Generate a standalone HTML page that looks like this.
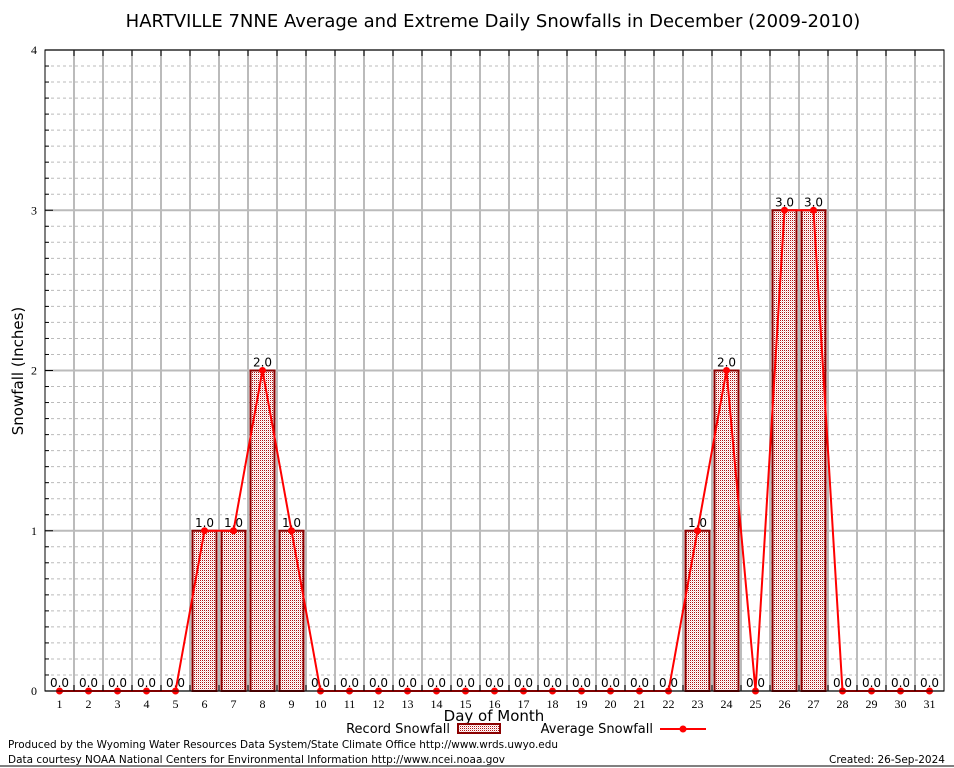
<!DOCTYPE html>
<html><head><meta charset="utf-8"><style>
body{margin:0;background:#fff}
svg{display:block;font-family:"DejaVu Sans","Liberation Sans",sans-serif}
</style></head><body>
<svg width="954" height="768" id="chart">
<defs>
<pattern id="chk" width="2" height="2" patternUnits="userSpaceOnUse">
<rect width="2" height="2" fill="#fff"/><rect width="1" height="1" fill="#b01010"/><rect x="1" y="1" width="1" height="1" fill="#f0d0d0"/>
</pattern>
</defs>
<text x="493" y="27" text-anchor="middle" font-size="18">HARTVILLE 7NNE Average and Extreme Daily Snowfalls in December (2009-2010)</text>
<text transform="translate(23,371) rotate(-90)" text-anchor="middle" font-size="15">Snowfall (Inches)</text>
<text x="494" y="721" text-anchor="middle" font-size="15">Day of Month</text>
<g id="grid"></g>
<g id="bars"></g>
<g id="line"></g>
<g id="axes"></g>
<g>
<text x="450" y="733" text-anchor="end" font-size="13">Record Snowfall</text>
<rect x="458" y="724" width="42" height="9" fill="url(#chk)" stroke="#8b0000" stroke-width="2"/>
<text x="653" y="733" text-anchor="end" font-size="13">Average Snowfall</text>
<line x1="660" y1="729" x2="706" y2="729" stroke="#f00" stroke-width="2"/>
<circle cx="683" cy="729" r="3.5" fill="#f00"/>
</g>
<text x="8" y="748" font-size="11" textLength="550" lengthAdjust="spacingAndGlyphs">Produced by the Wyoming Water Resources Data System/State Climate Office http://www.wrds.uwyo.edu</text>
<text x="8" y="763" font-size="11" textLength="497" lengthAdjust="spacingAndGlyphs">Data courtesy NOAA National Centers for Environmental Information http://www.ncei.noaa.gov</text>
<text x="945" y="763" text-anchor="end" font-size="11" textLength="116" lengthAdjust="spacingAndGlyphs">Created: 26-Sep-2024</text>
<line x1="0" y1="766" x2="954" y2="766" stroke="#000" stroke-width="1"/>
</svg>
<script>
const days = [1,2,3,4,5,6,7,8,9,10,11,12,13,14,15,16,17,18,19,20,21,22,23,24,25,26,27,28,29,30,31];
const recordSnow = [0,0,0,0,0,1,1,2,1,0,0,0,0,0,0,0,0,0,0,0,0,0,1,2,0,3,3,0,0,0,0];
const avgSnow = [0,0,0,0,0,1,1,2,1,0,0,0,0,0,0,0,0,0,0,0,0,0,1,2,0,3,3,0,0,0,0];
const yTicks = [0,1,2,3,4];
const NS='http://www.w3.org/2000/svg';
const L=45,R=944,T=50,B=691,yMax=4;
const x=d=>L+(d-0.5)*(R-L)/31;
const y=v=>B-v*(B-T)/yMax;
function mk(tag,attrs,parent,txt){const e=document.createElementNS(NS,tag);for(const k in attrs)e.setAttribute(k,attrs[k]);if(txt!==undefined)e.textContent=txt;parent.appendChild(e);return e;}
const g=document.getElementById('grid'),gb=document.getElementById('bars'),gl=document.getElementById('line'),ga=document.getElementById('axes');
for(let i=1;i<yMax*10;i++){if(i%10===0)continue;const e=mk('line',{x1:L,x2:R,y1:y(i/10),y2:y(i/10),stroke:'#bbb','stroke-dasharray':'3,3','stroke-width':1},g);

}
yTicks.forEach(t=>{const e=mk('line',{x1:L,x2:R,y1:y(t),y2:y(t),stroke:'#bbb','stroke-width':2},g);


const tl=mk('text',{x:L-8,y:y(t)+4,'text-anchor':'end','font-size':12,'font-family':'Liberation Serif, serif'},ga,String(t));


const tk=mk('line',{x1:L,x2:L+8,y1:y(t),y2:y(t),stroke:'#000','stroke-width':1},ga);

});
for(let i=1;i<31;i++){const xx=x(i+0.5);const e=mk('line',{x1:xx,x2:xx,y1:T,y2:B,stroke:'#bbb','stroke-width':2},g);


const tk=mk('line',{x1:xx,x2:xx,y1:T,y2:T+6,stroke:'#000'},ga);


const tb=mk('line',{x1:xx,x2:xx,y1:B,y2:B-6,stroke:'#000'},ga);

}
for(let i=1;i<yMax*10;i++){if(i%10===0)continue;const tk=mk('line',{x1:L,x2:L+4,y1:y(i/10),y2:y(i/10),stroke:'#000'},ga);

}
const fr=mk('rect',{x:L,y:T,width:R-L,height:B-T,fill:'none',stroke:'#000','stroke-width':1},ga);


days.forEach((d,i)=>{const v=recordSnow[i];
if(v>0){const b=mk('rect',{x:x(d)-12,y:y(v),width:24,height:B-y(v),fill:'url(#chk)',stroke:'#8b0000','stroke-width':2},gb);

}
const lb=mk('text',{x:x(d),y:y(v)-4,'text-anchor':'middle','font-size':12},gb,v.toFixed(1));


const xl=mk('text',{x:x(d),y:B+17,'text-anchor':'middle','font-size':12,'font-family':'Liberation Serif, serif'},ga,String(d));

});
const pl=mk('polyline',{points:days.map((d,i)=>x(d)+','+y(avgSnow[i])).join(' '),fill:'none',stroke:'#f00','stroke-width':2},gl);


days.forEach((d,i)=>{const c=mk('circle',{cx:x(d),cy:y(avgSnow[i]),r:3.5,fill:'#f00'},gl);

});
</script>
</body></html>
